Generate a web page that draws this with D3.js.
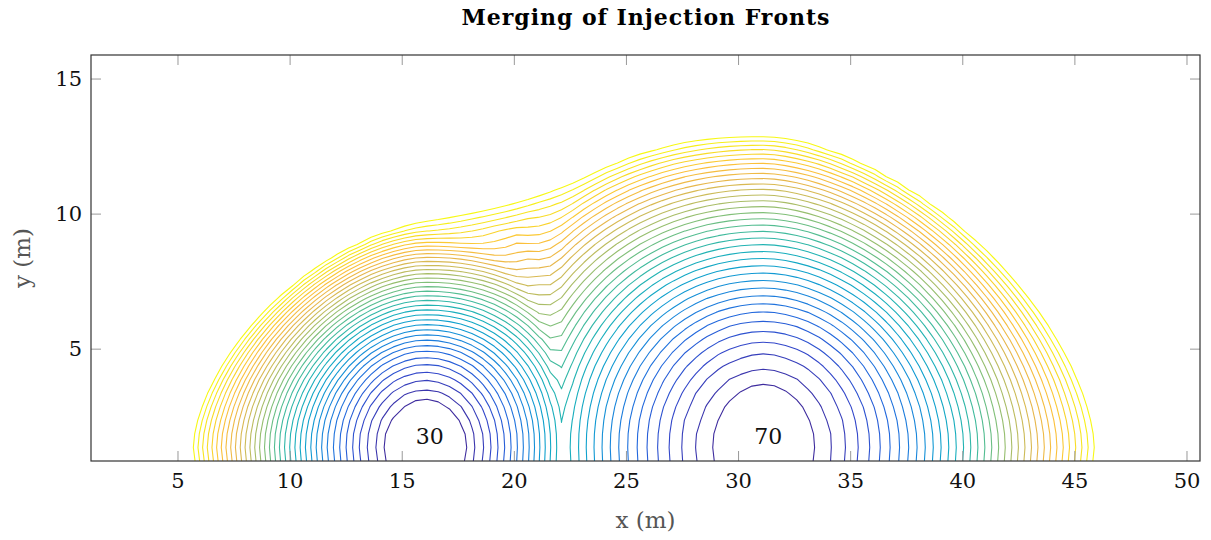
<!DOCTYPE html>
<html>
<head>
<meta charset="utf-8">
<script src="https://cdn.jsdelivr.net/npm/d3@7"></script>
<style>
  html, body { margin: 0; padding: 0; background: #fff; }
  text { font-family: "DejaVu Serif", "Liberation Serif", serif; }
</style>
</head>
<body>
<svg id="chart" width="1211" height="540"></svg>
<script>
// Injection wells: horizontal position, depth of the well centre, and the label shown at each well
const wellX = [16.03, 31.12];
const wellY = [1.4, 1.4];
const wellLabel = ["30", "70"];

// One entry per front (innermost first).
// Reach: x where the front meets the lower edge on the outer side of its well.
// Crest: y of the front straight above its well.
const leftReach = [14.31, 13.87, 13.49, 13.14, 12.84, 12.54, 12.26, 11.97, 11.70, 11.44,
                   11.21, 10.97, 10.73, 10.49, 10.26, 10.03, 9.80, 9.57, 9.35, 9.13,
                   8.91, 8.69, 8.48, 8.26, 8.05, 7.83, 7.62, 7.41, 7.20, 7.00,
                   6.79, 6.58, 6.37, 6.17, 5.96, 5.76];
const leftCrest = [3.11, 3.52, 3.85, 4.16, 4.44, 4.69, 4.94, 5.14, 5.34, 5.53,
                   5.72, 5.91, 6.10, 6.28, 6.46, 6.64, 6.81, 6.98, 7.15, 7.32,
                   7.48, 7.64, 7.80, 7.95, 8.10, 8.25, 8.40, 8.54, 8.68, 8.82,
                   8.95, 9.08, 9.21, 9.34, 9.46, 9.58];
const rightReach = [33.30, 34.11, 34.76, 35.32, 35.83, 36.30, 36.73, 37.15, 37.55, 37.93,
                    38.30, 38.65, 39.00, 39.34, 39.68, 40.00, 40.32, 40.64, 40.95, 41.25,
                    41.56, 41.85, 42.15, 42.44, 42.73, 43.02, 43.31, 43.59, 43.87, 44.15,
                    44.43, 44.71, 44.98, 45.26, 45.53, 45.80];
const rightCrest = [3.67, 4.28, 4.84, 5.27, 5.67, 6.05, 6.38, 6.69, 6.98, 7.27,
                    7.55, 7.82, 8.09, 8.36, 8.61, 8.87, 9.12, 9.36, 9.60, 9.83,
                    10.06, 10.28, 10.50, 10.71, 10.92, 11.12, 11.32, 11.51, 11.70, 11.88,
                    12.05, 12.23, 12.39, 12.55, 12.71, 12.86];

const xTicks = [5, 10, 15, 20, 25, 30, 35, 40, 45, 50];
const yTicks = [5, 10, 15];
const xDomain = [1.12, 50.58];
const yDomain = [0.86, 15.89];

// ---------------------------------------------------------------------------
const W = 1211, H = 540;
const plot = { left: 91, right: 1200, top: 55, bottom: 461 };
const svg = d3.select("#chart");

const x = d3.scaleLinear().domain(xDomain).range([plot.left, plot.right]);
const y = d3.scaleLinear().domain(yDomain).range([plot.bottom, plot.top]);

const nLevels = leftReach.length;

// Parula-style colour ramp, innermost front dark blue, outermost yellow
const parulaStops = ["#3e2c9e", "#3346c9", "#2266dd", "#1a84dc", "#0e9fd0", "#1cb2b8",
                     "#47bc97", "#8bbf73", "#c3bc5c", "#eab74a", "#fcc13a", "#f8dd26", "#f7f815"];
const colour = d3.scaleLinear()
  .domain(parulaStops.map((_, i) => i / (parulaStops.length - 1)))
  .range(parulaStops)
  .interpolate(d3.interpolateRgb);

// Each well's fronts as a nested family of super-ellipses; the side facing the
// neighbouring well (inner side) bulges upward where the two plumes push together.
function makeLobe(cx, cy, reach, crest, innerSide, pOuterEnd, pInnerEnd) {
  const n = reach.length;
  const lobe = { cx, cy, innerSide, a: [], b: [], pOut: [], pIn: [] };
  for (let k = 0; k < n; k++) {
    const t = k / (n - 1);
    const pOut = 2.0 + (pOuterEnd - 2.0) * t;
    const pIn = 2.0 + (pInnerEnd - 2.0) * t;
    const b = crest[k] - cy;
    const hw = Math.abs(reach[k] - cx);
    const dv = Math.abs(yDomain[0] - cy) / b;
    const a = hw / Math.pow(1 - Math.pow(dv, pOut), 1 / pOut);
    lobe.a.push(a); lobe.b.push(b); lobe.pOut.push(pOut); lobe.pIn.push(pIn);
  }
  const last = n - 1;
  lobe.step = 1 - lobe.a[last - 1] / lobe.a[last];
  return lobe;
}
const lobes = [
  makeLobe(wellX[0], wellY[0], leftReach, leftCrest, +1, 1.62, 2.4),
  makeLobe(wellX[1], wellY[1], rightReach, rightCrest, -1, 1.62, 2.15)
];

function rho(lobe, k, px, py) {
  const dx = px - lobe.cx;
  const u = Math.abs(dx) / lobe.a[k];
  const v = Math.abs(py - lobe.cy) / lobe.b[k];
  const p = dx * lobe.innerSide > 0 ? lobe.pIn[k] : lobe.pOut[k];
  return Math.pow(Math.pow(u, p) + Math.pow(v, p), 1 / p);
}

// Continuous front index of a point for one well
function frontIndex(lobe, px, py) {
  const n = lobe.a.length;
  let prev = rho(lobe, 0, px, py);
  if (prev <= 1) {
    const r1 = rho(lobe, 1, px, py);
    const d = prev - r1;
    return d > 1e-9 ? -(1 - prev) / d : -1;
  }
  for (let k = 1; k < n; k++) {
    const r = rho(lobe, k, px, py);
    if (r <= 1) return k - 1 + (prev - 1) / Math.max(prev - r, 1e-9);
    prev = r;
  }
  // beyond the outermost front: keep the outer spacing
  return n - 1 + (prev - 1) / lobe.step;
}

// Where the two fronts meet they merge; the blend widens as the fronts grow
const mergeWidth = 20;
function merge(a, b) {
  const m = Math.min(a, b);
  const t = Math.min(Math.max(m, 0) / (nLevels - 1), 1);
  const k = mergeWidth * t * t * t;
  if (k <= 1e-6) return m;
  const h = Math.max(k - Math.abs(a - b), 0) / k;
  return m - h * h * k / 4;
}

// Sample the front index on a regular grid
const nx = 100, ny = 31;
const sx = (xDomain[1] - xDomain[0]) / (nx - 1);
const sy = (yDomain[1] - yDomain[0]) / (ny - 1);
const grid = new Float64Array(nx * ny);
for (let j = 0; j < ny; j++) {
  const py = yDomain[0] + j * sy;
  for (let i = 0; i < nx; i++) {
    const px = xDomain[0] + i * sx;
    grid[j * nx + i] = merge(frontIndex(lobes[0], px, py), frontIndex(lobes[1], px, py));
  }
}

const levels = d3.range(nLevels);
const contours = d3.contours().size([nx, ny]).thresholds(levels)(grid);

const gridToScreen = d3.geoTransform({
  point: function (gx, gy) {
    this.stream.point(x(xDomain[0] + (gx - 0.5) * sx), y(yDomain[0] + (gy - 0.5) * sy));
  }
});
const path = d3.geoPath(gridToScreen);

// ---------------------------------------------------------------------------
svg.append("rect").attr("width", W).attr("height", H).attr("fill", "#fff");

svg.append("clipPath").attr("id", "plot-clip")
  .append("rect")
  .attr("x", plot.left).attr("y", plot.top)
  .attr("width", plot.right - plot.left).attr("height", plot.bottom - plot.top);

svg.append("g")
  .attr("clip-path", "url(#plot-clip)")
  .selectAll("path")
  .data(contours)
  .join("path")
  .attr("d", path)
  .attr("fill", "none")
  .attr("stroke", d => colour(d.value / (nLevels - 1)))
  .attr("stroke-width", 1.1)
  .attr("stroke-linejoin", "round");

// Well labels
svg.append("g")
  .selectAll("text")
  .data(wellLabel)
  .join("text")
  .attr("x", (d, i) => x(wellX[i] + 0.2))
  .attr("y", y(1.75))
  .attr("text-anchor", "middle")
  .attr("dominant-baseline", "central")
  .attr("font-size", 22)
  .attr("fill", "#111")
  .text(d => d);

// Axes: ticks point inward on all four sides
const tickLen = 10;
const axes = svg.append("g").attr("stroke", "#999").attr("stroke-width", 1);
axes.selectAll(".xt-b").data(xTicks).join("line")
  .attr("x1", d => x(d)).attr("x2", d => x(d))
  .attr("y1", plot.bottom).attr("y2", plot.bottom - tickLen);
axes.selectAll(".xt-t").data(xTicks).join("line")
  .attr("x1", d => x(d)).attr("x2", d => x(d))
  .attr("y1", plot.top).attr("y2", plot.top + tickLen);
axes.selectAll(".yt-l").data(yTicks).join("line")
  .attr("x1", plot.left).attr("x2", plot.left + tickLen)
  .attr("y1", d => y(d)).attr("y2", d => y(d));
axes.selectAll(".yt-r").data(yTicks).join("line")
  .attr("x1", plot.right).attr("x2", plot.right - tickLen)
  .attr("y1", d => y(d)).attr("y2", d => y(d));

svg.append("rect")
  .attr("x", plot.left).attr("y", plot.top)
  .attr("width", plot.right - plot.left).attr("height", plot.bottom - plot.top)
  .attr("fill", "none").attr("stroke", "#333").attr("stroke-width", 1.2);

svg.append("g").selectAll("text").data(xTicks).join("text")
  .attr("x", d => x(d)).attr("y", plot.bottom + 27)
  .attr("text-anchor", "middle").attr("font-size", 21).attr("fill", "#111")
  .text(d => d);

svg.append("g").selectAll("text").data(yTicks).join("text")
  .attr("x", plot.left - 9).attr("y", d => y(d))
  .attr("text-anchor", "end").attr("dominant-baseline", "central")
  .attr("font-size", 21).attr("fill", "#111")
  .text(d => d);

// Titles
svg.append("text")
  .attr("x", (plot.left + plot.right) / 2).attr("y", 25)
  .attr("text-anchor", "middle").attr("font-size", 22).attr("font-weight", "bold")
  .attr("textLength", 368).attr("lengthAdjust", "spacing")
  .attr("fill", "#000")
  .text("Merging of Injection Fronts");

svg.append("text")
  .attr("x", (plot.left + plot.right) / 2).attr("y", 528)
  .attr("text-anchor", "middle").attr("font-size", 23).attr("fill", "#555")
  .text("x (m)");

svg.append("text")
  .attr("transform", `translate(30, ${(plot.top + plot.bottom) / 2}) rotate(-90)`)
  .attr("text-anchor", "middle").attr("font-size", 23).attr("fill", "#555")
  .text("y (m)");
</script>
</body>
</html>
